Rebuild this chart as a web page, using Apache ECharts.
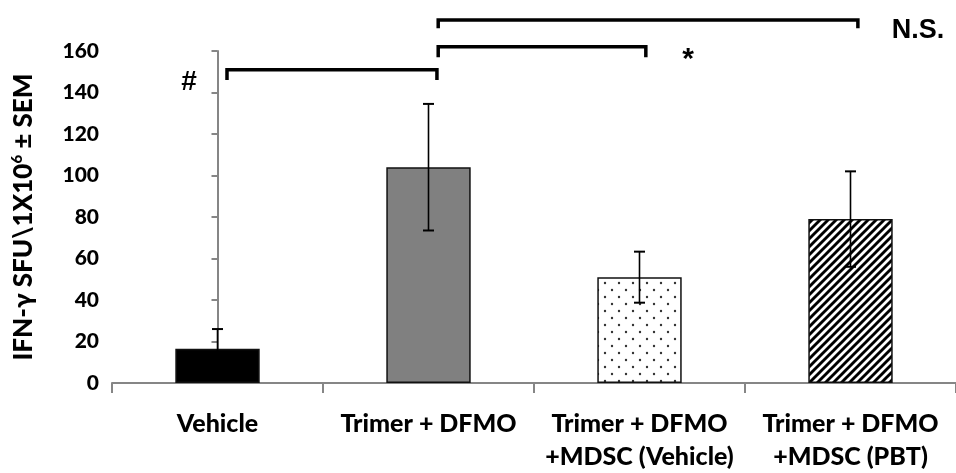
<!DOCTYPE html>
<html>
<head>
<meta charset="utf-8">
<script src="https://cdn.jsdelivr.net/npm/echarts@6/dist/echarts.min.js"></script>
<style>
html,body{margin:0;padding:0;background:#fff;}
#chart{width:956px;height:473px;}
</style>
</head>
<body>
<div id="chart"></div>
<script>
// ---- data ----
const categories = ['Vehicle', 'Trimer + DFMO', 'Trimer + DFMO\n+MDSC (Vehicle)', 'Trimer + DFMO\n+MDSC (PBT)'];
const means = [16.5, 104, 51, 79];
const sems = [9.5, 30.5, 12.3, 23];
const yTicks = [0, 20, 40, 60, 80, 100, 120, 140, 160];
// brackets: [fromCategoryPos, toCategoryPos, height, dropTo]
const brackets = [
  [0.045, 1.04, 151, 146],
  [1.046, 2.03, 162, 157],
  [1.046, 3.035, 175, 171]
];
// significance marks: [categoryPos, height, text]
const marks = [
  [-0.135, 145, '#'],
  [2.23, 156, '*'],
  [3.32, 170, 'N.S.']
];
const markSizes = [28, 30, 27];

// ---- patterns ----
function dotPattern() {
  const c = document.createElement('canvas');
  c.width = 14; c.height = 14;
  const g = c.getContext('2d');
  g.fillStyle = '#fff'; g.fillRect(0, 0, 14, 14);
  g.fillStyle = '#333';
  [[3, 3], [10, 10]].forEach(p => { g.beginPath(); g.arc(p[0], p[1], 1.2, 0, Math.PI * 2); g.fill(); });
  return { image: c, repeat: 'repeat' };
}
function stripePattern() {
  const s = 8;
  const c = document.createElement('canvas');
  c.width = s; c.height = s;
  const g = c.getContext('2d');
  g.fillStyle = '#fff'; g.fillRect(0, 0, s, s);
  g.strokeStyle = '#000'; g.lineWidth = 2.9;
  g.beginPath();
  g.moveTo(-1, s + 1); g.lineTo(s + 1, -1);
  g.moveTo(-1, 1); g.lineTo(1, -1);
  g.moveTo(s - 1, s + 1); g.lineTo(s + 1, s - 1);
  g.stroke();
  return { image: c, repeat: 'repeat' };
}
const fills = ['#000000', '#808080', dotPattern(), stripePattern()];

const chart = echarts.init(document.getElementById('chart'), null, { renderer: 'canvas' });

const bracketSeries = brackets.map(b => ({
  type: 'line',
  xAxisIndex: 1,
  yAxisIndex: 0,
  clip: false,
  symbol: 'none',
  silent: true,
  animation: false,
  z: 6,
  lineStyle: { color: '#000', width: 3.5, cap: 'butt', join: 'miter' },
  data: [[b[0], b[3]], [b[0], b[2]], [b[1], b[2]], [b[1], b[3]]]
}));

const labelFont = 'Lato';
const option = {
  animation: false,
  backgroundColor: '#fff',
  grid: { left: 112, right: 0, top: 51, bottom: 86, containLabel: false },
  xAxis: [{
    type: 'category',
    data: categories,
    axisLine: { show: true, lineStyle: { color: '#868686', width: 2 } },
    axisTick: { show: true, alignWithLabel: false, length: 10, lineStyle: { color: '#868686', width: 2 } },
    axisLabel: {
      interval: 0, color: '#000', fontSize: 25, fontWeight: 900,
      fontFamily: labelFont, margin: 24, lineHeight: 33
    },
    splitLine: { show: false }
  }, {
    type: 'value', min: -0.5, max: 3.5, show: false, gridIndex: 0
  }],
  yAxis: [{
    type: 'value',
    min: 0, max: 160, interval: 20,
    axisLine: { show: true, lineStyle: { color: '#868686', width: 2 } },
    axisTick: { show: true, length: 6, lineStyle: { color: '#868686', width: 2 } },
    axisLabel: {
      color: '#000', fontSize: 21, fontWeight: 900, fontFamily: labelFont, margin: 13,
      formatter: v => (yTicks.indexOf(v) >= 0 ? String(v) : '')
    },
    splitLine: { show: false },
    name: '{a|IFN-γ SFU\\1X10}{s|6}{a| ± SEM}',
    nameLocation: 'middle',
    nameGap: 75,
    nameRotate: 90,
    nameTextStyle: {
      rich: {
        a: { fontSize: 26, fontWeight: 900, fontFamily: labelFont, color: '#000' },
        s: { fontSize: 15, fontWeight: 900, fontFamily: labelFont, color: '#000', verticalAlign: 'top', padding: [0, 0, 12, 0] }
      }
    }
  }],
  series: [{
    type: 'bar',
    barWidth: '40%',
    z: 2,
    data: means.map((v, i) => ({ value: v, itemStyle: { color: fills[i] } })),
    itemStyle: { borderColor: '#111', borderWidth: 1.5 },
    silent: true
  }, {
    type: 'custom',
    xAxisIndex: 0,
    yAxisIndex: 0,
    clip: false,
    silent: true,
    z: 5,
    data: means.map((m, i) => [i, m, sems[i]]),
    renderItem: function (params, api) {
      const x = api.value(0), m = api.value(1), s = api.value(2);
      const top = api.coord([x, m + s]);
      const bot = api.coord([x, m - s]);
      const half = 5.5;
      return {
        type: 'group',
        children: [
          { type: 'line', z2: 10, shape: { x1: top[0], y1: top[1], x2: bot[0], y2: bot[1] }, style: { stroke: '#000', lineWidth: 1.6 } },
          { type: 'line', z2: 10, shape: { x1: top[0] - half, y1: top[1], x2: top[0] + half, y2: top[1] }, style: { stroke: '#000', lineWidth: 2 } },
          { type: 'line', z2: 10, shape: { x1: bot[0] - half, y1: bot[1], x2: bot[0] + half, y2: bot[1] }, style: { stroke: '#000', lineWidth: 2 } }
        ]
      };
    }
  }].concat(bracketSeries).concat([{
    type: 'scatter',
    xAxisIndex: 1,
    yAxisIndex: 0,
    clip: false,
    silent: true,
    symbolSize: 0,
    itemStyle: { opacity: 1 },
    z: 6,
    data: marks.map((m, i) => ({
      value: [m[0], m[1]], name: m[2],
      label: {
        show: true, position: 'inside', formatter: p => p.name,
        color: '#000', fontWeight: 'bold', fontFamily: 'Liberation Sans',
        fontSize: markSizes[i], opacity: 1
      }
    }))
  }])
};
chart.setOption(option);
</script>
</body>
</html>
